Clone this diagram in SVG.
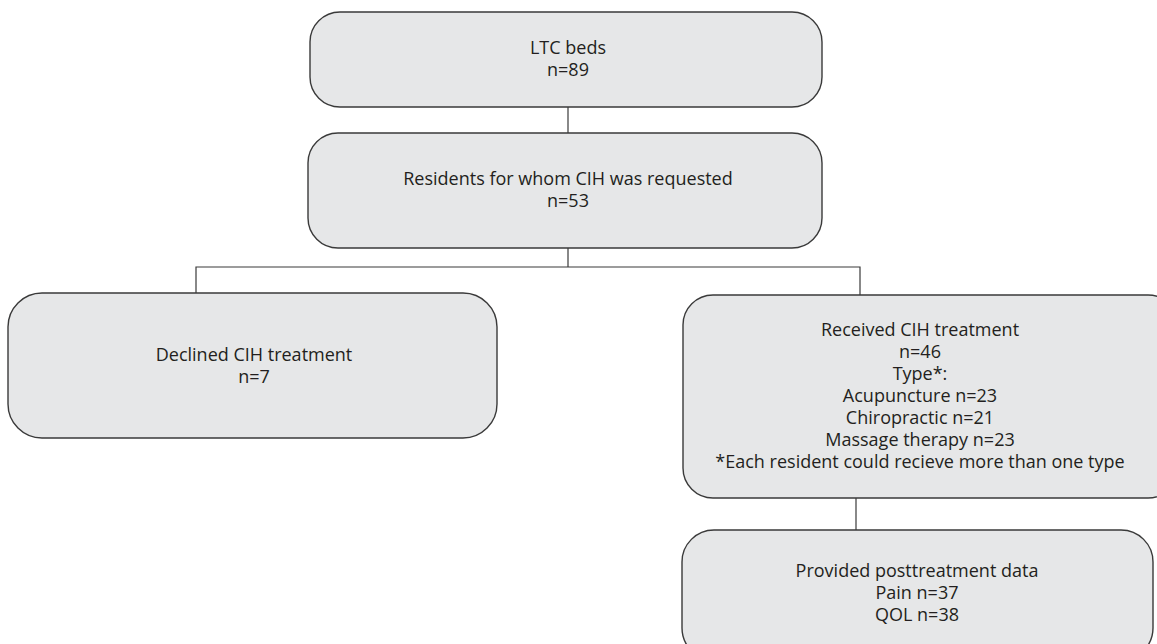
<svg xmlns="http://www.w3.org/2000/svg" width="1157" height="644" viewBox="0 0 1157 644">
<style>
.box{fill:#e6e7e8;stroke:#3a3a3a;stroke-width:1.4}
.t{font-family:"Open Sans","Noto Sans",sans-serif;font-size:18px;fill:#231f20;text-anchor:middle}
.c{fill:none;stroke:#3a3a3a;stroke-width:1.2}
</style>
<rect width="1157" height="644" fill="#ffffff"/>
<g id="connectors">
<path class="c" d="M568 107V133"/>
<path class="c" d="M568 248V267M196 293V267H860V295"/>
<path class="c" d="M856 498V530"/>
</g>
<g id="n1">
<rect class="box" x="310" y="12" width="512" height="95" rx="30"/>
<text class="t" x="568" y="54">LTC beds</text>
<text class="t" x="568" y="76">n=89</text>
</g>
<g id="n2">
<rect class="box" x="308" y="133" width="514" height="115" rx="30"/>
<text class="t" x="568" y="185">Residents for whom CIH was requested</text>
<text class="t" x="568" y="207">n=53</text>
</g>
<g id="n3">
<rect class="box" x="8" y="293" width="489" height="145" rx="34"/>
<text class="t" x="254" y="361">Declined CIH treatment</text>
<text class="t" x="254" y="383">n=7</text>
</g>
<g id="n4">
<rect class="box" x="683" y="295" width="495" height="203" rx="30"/>
<text class="t" x="920" y="336">Received CIH treatment</text>
<text class="t" x="920" y="358">n=46</text>
<text class="t" x="920" y="380">Type*:</text>
<text class="t" x="920" y="402">Acupuncture n=23</text>
<text class="t" x="920" y="424">Chiropractic n=21</text>
<text class="t" x="920" y="446">Massage therapy n=23</text>
<text class="t" x="920" y="468">*Each resident could recieve more than one type</text>
</g>
<g id="n5">
<rect class="box" x="682" y="530" width="471" height="130" rx="32"/>
<text class="t" x="917" y="577">Provided posttreatment data</text>
<text class="t" x="917" y="599">Pain n=37</text>
<text class="t" x="917" y="621">QOL n=38</text>
</g>
</svg>
